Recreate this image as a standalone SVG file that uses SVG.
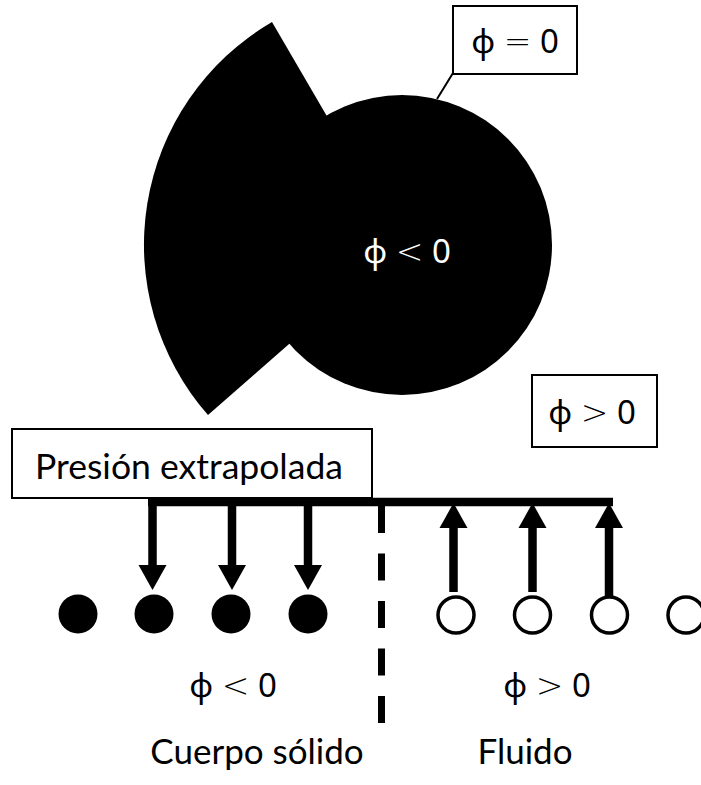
<svg xmlns="http://www.w3.org/2000/svg" width="701" height="785" viewBox="0 0 701 785">
  <style>
    .box { fill: #ffffff; stroke: #000000; stroke-width: 2; }
    .math { font-family: "Noto Sans", "DejaVu Sans", sans-serif; font-size: 33px; text-anchor: middle; fill: #000000; }
    .op { font-family: "DejaVu Sans", sans-serif; font-weight: 300; }
    .word { font-family: Lato, "Liberation Sans", sans-serif; font-size: 35px; text-anchor: middle; fill: #000000; }
    .shaft { stroke: #000000; stroke-width: 8.5; fill: none; }
    .dash { stroke: #000000; stroke-width: 7; stroke-dasharray: 27 20.5; fill: none; }
    .solid { fill: #000000; }
    .hollow { fill: #ffffff; stroke: #000000; stroke-width: 3.5; }
  </style>
  <defs>
    <marker id="head" markerUnits="userSpaceOnUse" markerWidth="26" markerHeight="30" viewBox="0 -15 26 30" refX="0" refY="0" orient="auto">
      <path d="M0,-14 L25,0 L0,14 Z" fill="#000000"/>
    </marker>
  </defs>

  <!-- solid body: pie sector and disc sharing one centre -->
  <g id="body">
    <path class="solid" d="M402,245 L272,22 A258,258 0 0 0 208,415 Z"/>
    <circle class="solid" cx="402" cy="245" r="150"/>
    <text class="math" x="407" y="263" style="fill:#ffffff">ϕ <tspan class="op">&lt;</tspan> 0</text>
  </g>

  <!-- connectors -->
  <g id="connectors">
    <line x1="453" y1="73" x2="437" y2="99" stroke="#000000" stroke-width="2"/>
    <path class="shaft" d="M148,502 H613"/>
    <path class="shaft" d="M152.5,502 V565" marker-end="url(#head)"/>
    <path class="shaft" d="M232,502 V565" marker-end="url(#head)"/>
    <path class="shaft" d="M308,502 V565" marker-end="url(#head)"/>
    <path class="shaft" d="M453.5,592 V528" marker-end="url(#head)"/>
    <path class="shaft" d="M532.5,592 V528" marker-end="url(#head)"/>
    <path class="shaft" d="M609,596 V528" marker-end="url(#head)"/>
    <path class="dash" d="M381.5,506 V724"/>
  </g>

  <g id="label-interface">
    <rect class="box" x="453" y="6" width="124" height="68"/>
    <text class="math" x="515" y="53">ϕ <tspan class="op">=</tspan> 0</text>
  </g>

  <g id="label-outside">
    <rect class="box" x="532" y="375" width="125" height="72"/>
    <text class="math" x="592" y="424">ϕ <tspan class="op">&gt;</tspan> 0</text>
  </g>

  <g id="label-pressure">
    <rect class="box" x="12" y="429" width="360" height="69"/>
    <text class="word" x="189" y="479" textLength="308" lengthAdjust="spacingAndGlyphs">Presión extrapolada</text>
  </g>

  <g id="solid-points">
    <circle class="solid" cx="78" cy="614" r="19.5"/>
    <circle class="solid" cx="154" cy="614" r="19.5"/>
    <circle class="solid" cx="231" cy="614" r="19.5"/>
    <circle class="solid" cx="308" cy="614" r="19.5"/>
  </g>

  <g id="fluid-points">
    <circle class="hollow" cx="456" cy="615" r="18"/>
    <circle class="hollow" cx="532.5" cy="615" r="18"/>
    <circle class="hollow" cx="609.5" cy="615" r="18"/>
    <circle class="hollow" cx="686" cy="615" r="18"/>
  </g>

  <g id="solid-side">
    <text class="math" x="233" y="697">ϕ <tspan class="op">&lt;</tspan> 0</text>
    <text class="word" x="257" y="764">Cuerpo sólido</text>
  </g>

  <g id="fluid-side">
    <text class="math" x="547" y="697">ϕ <tspan class="op">&gt;</tspan> 0</text>
    <text class="word" x="525" y="764">Fluido</text>
  </g>
</svg>
